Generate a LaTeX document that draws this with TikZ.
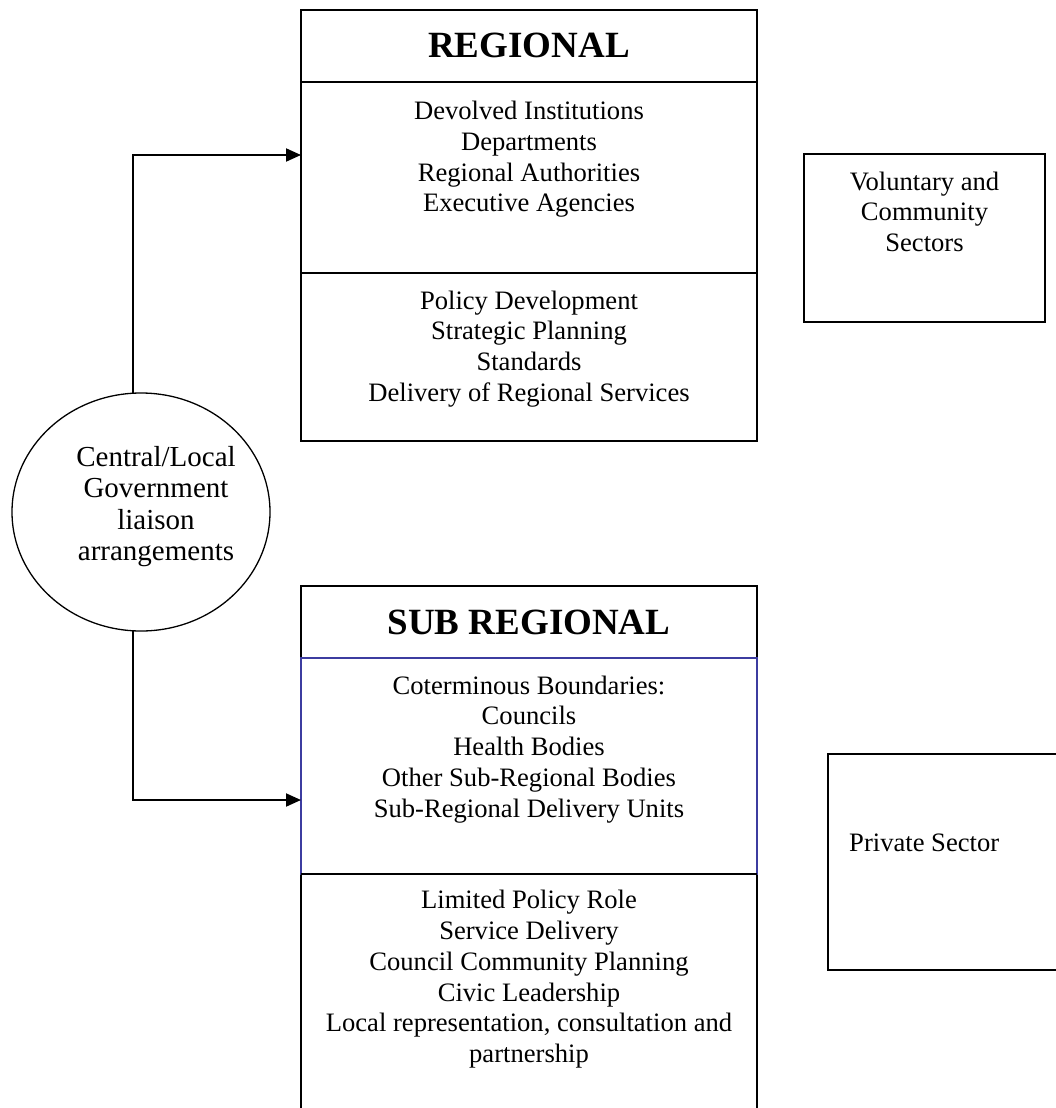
\documentclass[tikz,border=0pt]{standalone}
\usepackage{fontspec}
\setmainfont{Liberation Serif}
\usetikzlibrary{arrows.meta,shapes.geometric}
\definecolor{subblue}{RGB}{60,60,160}
\begin{document}
\begin{tikzpicture}[x=1pt,y=-1pt,
  box/.style={draw, line width=1.8pt, rectangle, inner sep=0pt, outer sep=0pt},
  ttl/.style={font=\fontsize{37}{42}\selectfont\bfseries, inner sep=0pt, anchor=base},
  txt/.style={font=\fontsize{26.6}{30.8}\selectfont, align=center, inner sep=0pt, anchor=north, execute at begin node=\strut},
  etxt/.style={font=\fontsize{29}{31.5}\selectfont, align=center, inner sep=0pt, anchor=north, execute at begin node=\strut},
  conn/.style={line width=2pt, -{Triangle[length=15pt,width=13pt]}}]
\useasboundingbox (0,0) rectangle (1056,1108);
\fill[white] (0,0) rectangle (1056,1108);
\clip (0,0) rectangle (1056,1108);

% REGIONAL
\node[box, minimum width=456pt, minimum height=72pt] (regT) at (529,46) {};
\node[box, minimum width=456pt, minimum height=191pt] (regM) at (529,177.5) {};
\node[box, minimum width=456pt, minimum height=168pt] (regB) at (529,357) {};
\node[ttl] (regTt) at (529,58) {REGIONAL};
\node[txt] (regMt) at (529,100.9) {Devolved Institutions\\Departments\\Regional Authorities\\Executive Agencies};
\node[txt] (regBt) at (529,290.4) {Policy Development\\Strategic Planning\\Standards\\Delivery of Regional Services};

% Voluntary
\node[box, minimum width=241pt, minimum height=168pt] (vol) at (924.5,238) {};
\node[txt] (volt) at (924.5,171.5) {Voluntary and\\Community\\Sectors};

% Ellipse
\node[draw, ellipse, line width=1.3pt, minimum width=258pt, minimum height=238pt, inner sep=0pt, outer sep=0pt] (ell) at (141,512) {};
\node[etxt] (ellt) at (156,446) {Central/Local\\Government\\liaison\\arrangements};

% SUB REGIONAL
\node[box, minimum width=456pt, minimum height=72pt] (subT) at (529,622) {};
\node[box, minimum width=456pt, minimum height=246pt] (subB) at (529,997) {};
\node[box, draw=subblue, minimum width=456pt, minimum height=216pt] (subM) at (529,766) {};
\draw[line width=1.8pt] (subM.south west) -- (subM.south east);
\node[ttl] (subTt) at (529,634) {SUB REGIONAL};
\node[txt] (subMt) at (529,675.4) {Coterminous Boundaries:\\Councils\\Health Bodies\\Other Sub-Regional Bodies\\Sub-Regional Delivery Units};
\node[txt] (subBt) at (529,890) {Limited Policy Role\\Service Delivery\\Council Community Planning\\Civic Leadership\\Local representation, consultation and\\partnership};

% Private sector
\node[box, minimum width=247pt, minimum height=216pt] (priv) at (951.5,862) {};
\node[font=\fontsize{26.6}{30.8}\selectfont, inner sep=0pt, anchor=base west] (privt) at (849,851) {Private Sector};

% Connectors
\coordinate (ra) at (301,155);
\coordinate (sa) at (301,800);
\draw[conn] (ell.94) |- (ra);
\draw[conn] (ell.266) |- (sa);
\end{tikzpicture}
\end{document}
